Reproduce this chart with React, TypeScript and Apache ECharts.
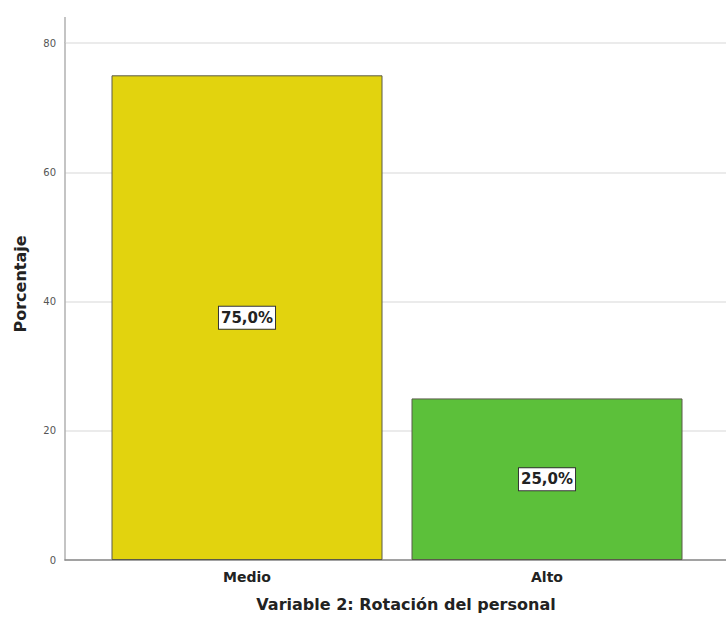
import React, { useEffect, useRef } from "react";
import * as echarts from "echarts";

const categories = ["Medio", "Alto"];
const percentages = [75.0, 25.0];
const barColors = ["#E2D30E", "#5CC03A"];
const yTicks = [0, 20, 40, 60, 80];
const xTitle = "Variable 2: Rotación del personal";
const yTitle = "Porcentaje";

export default function App() {
  const ref = useRef<HTMLDivElement>(null);

  useEffect(() => {
    if (!ref.current) return;
    const chart = echarts.init(ref.current, undefined, { renderer: "svg" });
    const yMax = yTicks[yTicks.length - 1];
    const font = "'DejaVu Sans', Arial, sans-serif";

    chart.setOption({
      animation: false,
      backgroundColor: "#ffffff",
      grid: [
        // frame grid: gridlines, y axis and baseline
        { left: 65, right: 0, top: 43, bottom: 61 },
        // bar grid: categories inset from the frame
        { left: 97, right: 29, top: 43, bottom: 61 },
      ],
      xAxis: [
        {
          gridIndex: 0,
          type: "value",
          min: 0,
          max: 1,
          axisLine: { show: true, lineStyle: { color: "#8a8a8a", width: 1.5 } },
          axisTick: { show: false },
          axisLabel: { show: false },
          splitLine: { show: false },
        },
        {
          gridIndex: 1,
          type: "category",
          data: categories,
          axisLine: { show: false },
          axisTick: { show: false },
          axisLabel: {
            color: "#222",
            fontSize: 14,
            fontWeight: "bold",
            fontFamily: font,
            margin: 10,
          },
        },
      ],
      yAxis: [
        {
          gridIndex: 0,
          type: "value",
          min: 0,
          max: yMax,
          interval: 20,
          axisLine: { show: true, lineStyle: { color: "#b0b0b0", width: 1.5 } },
          axisTick: { show: false },
          axisLabel: { color: "#555", fontSize: 10, fontFamily: font, margin: 9 },
          splitLine: { show: true, lineStyle: { color: "#e4e4e4", width: 1.5 } },
        },
        {
          gridIndex: 1,
          type: "value",
          min: 0,
          max: yMax,
          interval: 20,
          show: false,
          splitLine: { show: false },
        },
      ],
      series: [
        {
          type: "bar",
          xAxisIndex: 1,
          yAxisIndex: 1,
          barWidth: 271,
          data: percentages.map((v, i) => ({
            value: v,
            itemStyle: { color: barColors[i], borderColor: "#5a5a4a", borderWidth: 1 },
          })),
          label: {
            show: true,
            position: "inside",
            formatter: (p: any) => p.value.toFixed(1).replace(".", ",") + "%",
            color: "#222",
            fontSize: 15,
            fontWeight: "bold",
            fontFamily: font,
            backgroundColor: "#ffffff",
            borderColor: "#333",
            borderWidth: 1,
            padding: [4, 2, 3, 2],
          },
        },
      ],
      graphic: [
        {
          type: "line",
          shape: { x1: 65, y1: 17, x2: 65, y2: 43 },
          style: { stroke: "#b0b0b0", lineWidth: 1.5 },
        },
        {
          type: "text",
          x: 406,
          y: 604,
          style: {
            text: xTitle,
            fill: "#222",
            font: `bold 16px ${font}`,
            textAlign: "center",
            textVerticalAlign: "middle",
          },
        },
        {
          type: "text",
          x: 20,
          y: 284,
          rotation: Math.PI / 2,
          style: {
            text: yTitle,
            fill: "#222",
            font: `bold 16px ${font}`,
            textAlign: "center",
            textVerticalAlign: "middle",
          },
        },
      ],
    });

    return () => chart.dispose();
  }, []);

  return <div ref={ref} style={{ width: 726, height: 621, position: "absolute", left: 0, top: 0 }} />;
}
